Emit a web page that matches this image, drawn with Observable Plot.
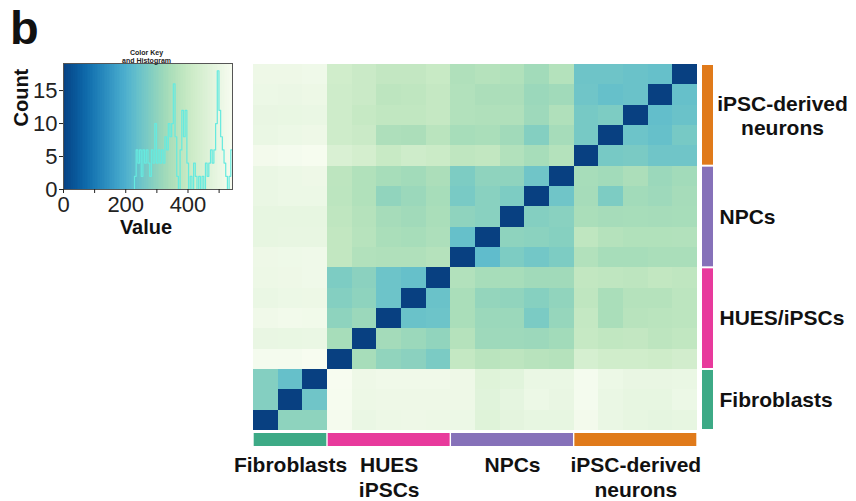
<!DOCTYPE html>
<html><head><meta charset="utf-8">
<script src="https://cdn.jsdelivr.net/npm/d3@7"></script>
<script src="https://cdn.jsdelivr.net/npm/@observablehq/plot@0.6"></script>
<style>
body{margin:0;background:#fff;}
#fig{position:relative;width:856px;height:501px;overflow:hidden;background:#fff;font-family:"Liberation Sans",Arial,sans-serif;color:#111;}
#fig svg{position:absolute;}
#panel{position:absolute;left:10px;top:4px;font-size:47px;font-weight:bold;line-height:1;}
</style></head><body><div id="fig"><div id="panel">b</div></div>
<script>
// ---- data ----
const samples = ["F1","F2","F3","H1","H2","H3","H4","H5","N1","N2","N3","N4","N5","I1","I2","I3","I4","I5"];
const groups = ["Fibroblasts","HUES/iPSCs","NPCs","iPSC-derived neurons"];
const groupSize = [3,5,5,5];
const groupColors = ["#3DAA86","#E83A9C","#8671B9","#E07A1A"];
const bottomLabels = ["Fibroblasts","HUES\niPSCs","NPCs","iPSC-derived\nneurons"];
const sideLabels = ["Fibroblasts","HUES/iPSCs","NPCs","iPSC-derived\nneurons"];
// distance matrix, rows listed bottom -> top, columns left -> right (same sample order)
const distances = [
  [0,300,300,538,505,512,515,512,510,470,485,495,495,530,505,495,490,495],
  [285,0,255,540,512,515,515,515,515,475,490,510,500,535,505,495,495,510],
  [285,240,0,545,515,522,522,522,515,470,478,505,505,535,510,500,500,505],
  [535,535,543,0,340,305,295,272,395,375,380,370,365,440,425,425,418,430],
  [500,502,505,340,0,335,320,305,365,325,325,322,332,400,388,392,380,388],
  [522,527,525,300,320,0,245,250,345,320,320,272,312,395,345,370,375,378],
  [505,510,512,285,300,250,0,245,345,310,305,288,305,385,345,365,365,378],
  [512,515,520,275,295,250,240,0,360,340,340,330,330,390,385,380,390,385],
  [515,517,520,390,360,355,355,365,0,230,275,260,275,360,340,340,345,345],
  [495,497,497,390,368,345,340,350,240,0,300,296,288,385,365,358,358,360],
  [495,495,495,385,365,338,330,345,302,292,0,285,292,345,338,340,338,340],
  [505,510,510,378,358,305,320,340,268,292,275,0,255,338,275,332,325,338],
  [505,510,515,380,358,340,332,348,275,302,302,255,0,340,332,348,320,332],
  [530,535,540,450,435,405,420,412,385,390,360,340,363,0,265,270,255,255],
  [505,510,515,420,410,352,348,375,340,345,330,285,338,265,0,250,240,265],
  [500,502,505,420,400,388,388,398,360,355,355,325,355,265,275,0,235,245],
  [510,508,512,420,410,380,385,398,360,348,348,320,330,255,240,245,0,240],
  [515,515,520,425,410,392,392,405,355,365,358,332,363,252,252,245,240,0]
];
const valueMax = 543;
// colour-key histogram (bin left edges and counts)
const histEdges = [222.6,228.1,233.5,238.9,244.4,249.8,255.2,260.6,266.1,271.5,276.9,282.4,287.8,293.2,298.7,304.1,309.5,314.9,320.4,325.8,331.2,336.7,342.1,347.5,352.9,358.4,363.8,369.2,374.7,380.1,385.5,390.9,396.4,401.8,407.2,412.7,418.1,423.5,428.9,434.4,439.8,445.2,450.7,456.1,461.5,466.9,472.4,477.8,483.2,488.7,494.1,499.5,504.9,510.4,515.8,521.2,526.7,532.1,537.5];
const histCounts = [0,2,6,4,6,2,6,4,6,4,2,6,4,10,4,6,4,6,4,8,6,10,8,10,16,8,2,0,6,12,8,12,4,0,2,0,4,2,0,2,0,2,0,4,2,4,6,4,6,10,18,12,8,6,4,2,0,2,6];
const countTicks = [0,5,10,15];
const valueTicks = [0,100,200,300,400,500];
const valueLabels = [0,200,400];

// ---- derived tables ----
const n = samples.length;
const cells = [];
distances.forEach((row, r) => row.forEach((v, c) => cells.push({r, c, v})));
let acc = 0;
const groupInfo = groups.map((g, i) => {
  const start = acc; acc += groupSize[i];
  return {name: g, start, end: acc, mid: (start + acc) / 2, bottom: bottomLabels[i], side: sideLabels[i], multi: sideLabels[i].includes("\n")};
});
const histPts = histEdges.map((e, i) => ({x: e, y: histCounts[i]}));
histPts.push({x: valueMax, y: histCounts[histCounts.length - 1]});
const keyBins = d3.range(100).map(i => ({x1: i * valueMax / 100, x2: (i + 1) * valueMax / 100, v: (i + 0.5) * valueMax / 100}));

const font = '"Liberation Sans", Arial, sans-serif';
const colorScale = {type: "linear", scheme: "GnBu", reverse: true, domain: [0, valueMax]};
const fig = document.getElementById("fig");

// ---- main heatmap ----
const main = Plot.plot({
  width: 856, height: 501,
  marginLeft: 253, marginRight: 159, marginTop: 64, marginBottom: 71,
  x: {domain: [0, n], axis: null},
  y: {domain: [0, n], axis: null},
  color: colorScale,
  style: {background: "transparent", fontFamily: font, color: "#111"},
  marks: [
    Plot.rect(cells, {x1: d => d.c, x2: d => d.c + 1, y1: d => d.r, y2: d => d.r + 1, fill: "v", shapeRendering: "crispEdges"}),
    Plot.text(groupInfo, {x: "mid", text: "bottom", frameAnchor: "bottom", lineAnchor: "top", dy: 23, fontSize: 21, fontWeight: "bold", lineHeight: 1.22, fill: "#111"}),
    Plot.text(groupInfo.filter(d => !d.multi), {y: "mid", text: "side", frameAnchor: "right", lineAnchor: "middle", textAnchor: "start", dx: 22, fontSize: 21, fontWeight: "bold", fill: "#111"}),
    Plot.text(groupInfo.filter(d => d.multi), {y: "mid", text: "side", frameAnchor: "right", lineAnchor: "middle", textAnchor: "middle", dx: 85, fontSize: 21, fontWeight: "bold", lineHeight: 1.15, fill: "#111"})
  ]
});
fig.appendChild(main);
main.style.left = "0px"; main.style.top = "0px";

// ---- bottom group bar ----
const bottomBar = Plot.plot({
  width: 856, height: 13,
  marginLeft: 253, marginRight: 159, marginTop: 0, marginBottom: 0,
  x: {domain: [0, n], axis: null},
  color: {domain: groups, range: groupColors},
  style: {background: "transparent"},
  marks: [Plot.rect(groupInfo, {x1: "start", x2: "end", fill: "name", insetLeft: 0.7, insetRight: 0.7})]
});
fig.appendChild(bottomBar);
bottomBar.style.left = "0px"; bottomBar.style.top = "433px";

// ---- right group bar ----
const sideBar = Plot.plot({
  width: 11, height: 501,
  marginLeft: 0, marginRight: 0, marginTop: 64, marginBottom: 71,
  y: {domain: [0, n], axis: null},
  color: {domain: groups, range: groupColors},
  style: {background: "transparent"},
  marks: [Plot.rect(groupInfo, {y1: "start", y2: "end", fill: "name", insetTop: 1, insetBottom: 1})]
});
fig.appendChild(sideBar);
sideBar.style.left = "702px"; sideBar.style.top = "0px";

// ---- colour key & histogram ----
const key = Plot.plot({
  width: 240, height: 240,
  marginLeft: 63, marginRight: 8, marginTop: 63, marginBottom: 51,
  x: {domain: [0, valueMax]},
  y: {domain: [0, 19.1]},
  color: colorScale,
  style: {background: "transparent", fontFamily: font, color: "#222"},
  marks: [
    Plot.rect(keyBins, {x1: "x1", x2: "x2", fill: "v", shapeRendering: "crispEdges"}),
    Plot.line(histPts, {x: "x", y: "y", curve: "step-after", stroke: "#66eadf", strokeWidth: 1.2}),
    Plot.frame({stroke: "#555"}),
    Plot.axisY({ticks: countTicks, tickSize: 4, tickPadding: 2, fontSize: 22, label: null}),
    Plot.axisX({ticks: valueTicks, tickFormat: d => valueLabels.includes(d) ? String(d) : "", tickSize: 4, tickPadding: 3, fontSize: 22, label: null}),
    Plot.text(["Count"], {text: d => d, frameAnchor: "left", lineAnchor: "middle", rotate: -90, dx: -42, fontSize: 20, fontWeight: "bold", fill: "#111"}),
    Plot.text(["Value"], {text: d => d, frameAnchor: "bottom", lineAnchor: "middle", dy: 38, dx: -2, fontSize: 20, fontWeight: "bold", fill: "#111"}),
    Plot.text(["Color Key\nand Histogram"], {text: d => d, frameAnchor: "top", lineAnchor: "middle", dy: -7, dx: -1.5, fontSize: 7, fontWeight: "bold", lineHeight: 1.15, fill: "#222"})
  ]
});
fig.appendChild(key);
key.style.left = "0px"; key.style.top = "0px";
</script>
</body></html>
